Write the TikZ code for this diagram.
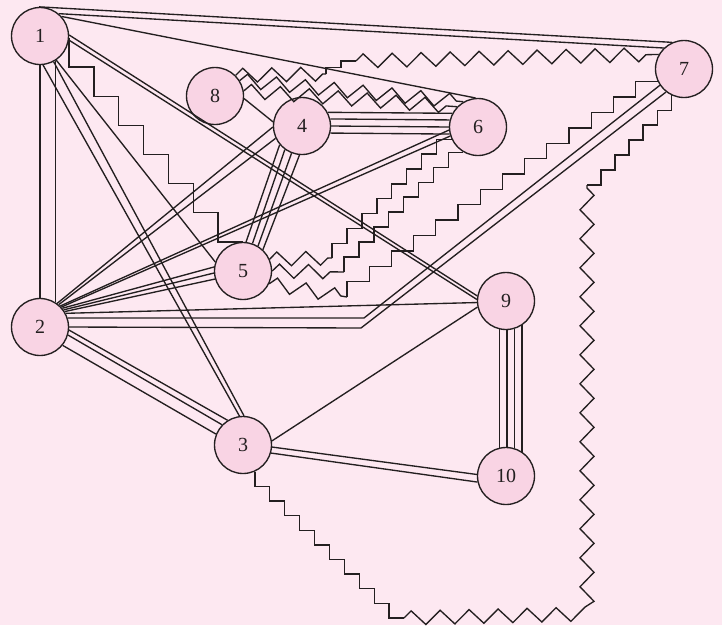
\documentclass[tikz,border=0pt]{standalone}
\usepackage{fontspec}
\setmainfont{Liberation Serif}
\definecolor{paper}{HTML}{FDE8F1}
\definecolor{vfill}{HTML}{F9D4E4}
\definecolor{ink}{HTML}{231F20}
\usepackage{tikz}
\usetikzlibrary{calc, decorations.pathmorphing}

\begin{document}
\begin{tikzpicture}[x=1pt, y=-1pt, line width=1.35pt, color=ink,
  vtx/.style={circle, draw=ink, fill=vfill, minimum size=57pt, inner sep=0pt,
              font=\fontsize{20}{20}\selectfont},
  zz/.style={decorate, decoration={zigzag, segment length=29pt, amplitude=7pt}}]
  \fill[paper] (0,0) rectangle (722,625);
  \useasboundingbox (0,0) rectangle (722,625);
  % vertices
  \node[vtx] (n1) at (40,36) {1};
  \node[vtx] (n2) at (40,327) {2};
  \node[vtx] (n3) at (243,445) {3};
  \node[vtx] (n4) at (302,126) {4};
  \node[vtx] (n5) at (243,271) {5};
  \node[vtx] (n6) at (478,127) {6};
  \node[vtx] (n7) at (684,69) {7};
  \node[vtx] (n8) at (215,96) {8};
  \node[vtx] (n9) at (506,301) {9};
  \node[vtx] (n10) at (506,476) {10};
  % straight links
  \foreach \a/\b in {92/114, 50/134} \draw (n1.\a) -- (n7.\b);
  \draw (n1.42) -- (n6.95);
  \foreach \a/\b in {270/90, 302/58} \draw (n1.\a) -- (n2.\b);
  \foreach \a/\b in {276/97, 298/88} \draw (n1.\a) -- (n3.\b);
  \draw (n1.-56) -- (n5.162);
  \foreach \a/\b in {2/170, -8/177} \draw (n1.\a) -- (n9.\b);
  \draw (n8.-5) -- (n4.172);
  \foreach \a/\b in {54/182, 50/205} \draw (n2.\a) -- (n4.\b);
  \foreach \a/\b in {46/186, 43/198} \draw (n2.\a) -- (n6.\b);
  \foreach \a/\b in {40/172, 36/184, 32/196} \draw (n2.\a) -- (n5.\b);
  \draw (n2.28) -- (n9.183);
  \foreach \a/\b in {-6/122, -16/136, -39/158} \draw (n2.\a) -- (n3.\b);
  \foreach \a/\b in {28/152, 14/166, 0/180, -14/194} \draw (n4.\a) -- (n6.\b);
  \foreach \a/\b in {220/84, 234/71, 249/59, 265/47} \draw (n4.\a) -- (n5.\b);
  \draw (n3.8) -- (n9.192);
  \foreach \a/\b in {-4/177, -16/192} \draw (n3.\a) -- (n10.\b);
  \foreach \a/\b in {257/103, 272/88, 287/73, 303/57} \draw (n9.\a) -- (n10.\b);
  % bent double link
  \coordinate (p27a) at (364,318);
  \coordinate (p27b) at (361,328);
  \draw (n2.18) -- (p27a) -- (n7.214);
  \draw (n2.0) -- (p27b) -- (n7.232);
  % zigzag links
  \draw[zz] (n8.32) -- (n6.120);
  \draw[zz] (n8.10) -- (n6.136);
  \coordinate (a87) at (326,74);
  \coordinate (b87) at (356,61);
  \draw[zz] (n8.45) -- (a87);
  \draw (a87) \foreach \k in {1,2} { |- ($(a87)!\k/2!(b87)$) };
  \draw[zz] (b87) -- (n7.150);
  % stair links
  \draw (n1.-4) \foreach \k in {1,...,7} { |- ($(n1.-4)!\k/7!(n5.90)$) };
  \coordinate (a56) at (332,258);
  \draw[zz] (n5.24) -- (a56);
  \draw (a56) \foreach \k in {1,...,8} { |- ($(a56)!\k/8!(n6.205)$) };
  \coordinate (b56) at (344,272);
  \draw[zz] (n5.0) -- (b56);
  \draw (b56) \foreach \k in {1,...,8} { |- ($(b56)!\k/8!(n6.240)$) };
  \coordinate (c57) at (347,297);
  \draw[zz] (n5.-26) -- (c57);
  \draw (c57) \foreach \k in {1,...,14} { |- ($(c57)!\k/14!(n7.206)$) };
  \coordinate (s37a) at (404,618);
  \coordinate (s37b) at (587,614);
  \coordinate (s37c) at (587,185);
  \draw (n3.-66) \foreach \k in {1,...,10} { |- ($(n3.-66)!\k/10!(s37a)$) };
  \draw[zz] (s37a) -- (s37b) -- (s37c);
  \draw (s37c) \foreach \k in {1,...,6} { -| ($(s37c)!\k/6!(n7.244)$) };
\end{tikzpicture}
\end{document}
